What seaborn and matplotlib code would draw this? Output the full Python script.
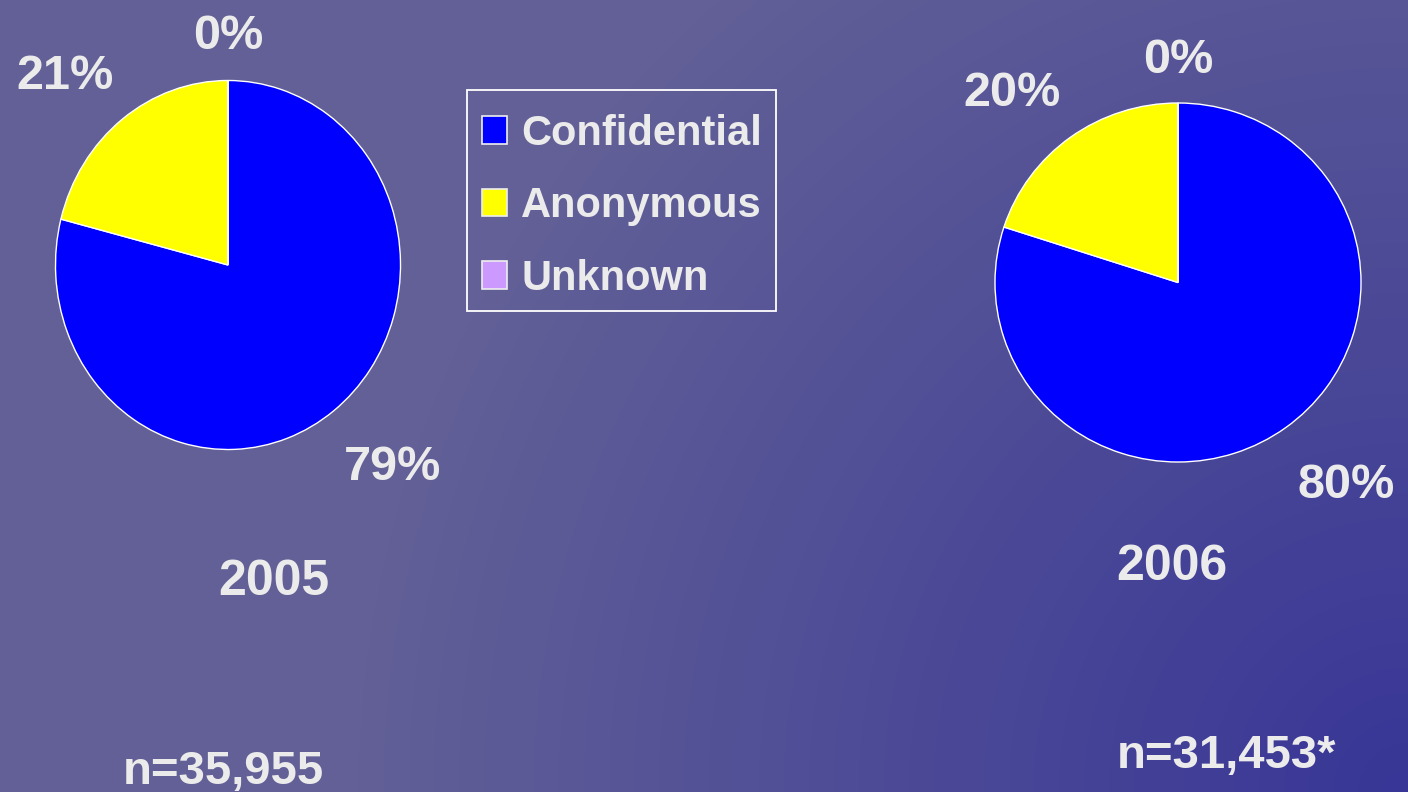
import numpy as np
import matplotlib
matplotlib.use("Agg")
import matplotlib.pyplot as plt
import matplotlib.transforms as mtransforms
from matplotlib.patches import Patch, Rectangle
import seaborn as sns

# ---- data ----
categories = ["Confidential", "Anonymous", "Unknown"]
years = ["2005", "2006"]
shares_2005 = [79, 21, 0]
shares_2006 = [80, 20, 0]
n_labels = ["n=35,955", "n=31,453*"]

sns.set_style("white")
plt.rcParams["font.family"] = ["Liberation Sans", "DejaVu Sans"]
plt.rcParams["font.weight"] = "bold"

colors = sns.color_palette(["#0000FF", "#FFFF00", "#CC99FF"])
txt_color = "#EBEBEB"

W, H = 1408, 792
fig = plt.figure(figsize=(W / 100, H / 100), dpi=100)

# ---- background gradient (radial from bottom-right corner) ----
bg = fig.add_axes([0, 0, 1, 1], zorder=-10)
yy, xx = np.mgrid[0:H, 0:W]
d = np.sqrt((W - xx) ** 2 + (H - yy) ** 2)
t = np.clip(1 - d / 1050.0, 0, 1)
c0 = np.array([98, 96, 150]) / 255.0
c1 = np.array([56, 54, 150]) / 255.0
img = c0[None, None, :] * (1 - t[..., None]) + c1[None, None, :] * t[..., None]
bg.imshow(img, aspect="auto", extent=[0, W, H, 0])
bg.set_axis_off()


def px_axes(cx, cy, rx, ry):
    return fig.add_axes([(cx - rx) / W, (H - cy - ry) / H, 2 * rx / W, 2 * ry / H])


label_dist = [1.43, 1.415, 1.27]
label_rot = 4.0  # degrees the labels sit counter-clockwise of the wedge middle


def draw_pie(ax, values):
    wedges, _ = ax.pie(values, colors=colors, startangle=90, counterclock=False,
                       wedgeprops=dict(edgecolor="white", linewidth=1.0))
    ax.set_aspect("auto")
    ax.set_xlim(-1, 1)
    ax.set_ylim(-1, 1)
    ax.set_axis_off()
    shift = ax.transData + mtransforms.ScaledTranslation(0, -0.06, fig.dpi_scale_trans)
    for w, v, dist in zip(wedges, values, label_dist):
        ang = (w.theta1 + w.theta2) / 2
        if w.theta1 != w.theta2:
            ang += label_rot
        mid = np.deg2rad(ang)
        ax.text(dist * np.cos(mid), dist * np.sin(mid), f"{v}%",
                ha="center", va="center", fontsize=35, fontweight="bold",
                color=txt_color, clip_on=False, transform=shift)


ax1 = px_axes(228, 265, 172.5, 184.5)
draw_pie(ax1, shares_2005)
ax2 = px_axes(1178, 282.5, 183, 179.5)
draw_pie(ax2, shares_2006)

# ---- year and n labels ----
year_pos = [(274, 582), (1172, 567)]
n_pos = [(223, 772), (1227, 756)]
for (x, y), s in zip(year_pos, years):
    fig.text(x / W, 1 - y / H, s, ha="center", va="center", fontsize=36,
             fontweight="bold", color=txt_color)
for (x, y), s in zip(n_pos, n_labels):
    fig.text(x / W, 1 - y / H, s, ha="center", va="center", fontsize=34,
             fontweight="bold", color=txt_color)

# ---- legend ----
handles = [Patch(facecolor=c, edgecolor="#EEEEEE", linewidth=1.2) for c in colors]
leg = fig.legend(handles, categories, loc="upper left",
                 bbox_to_anchor=(467 / W, 1 - 99 / H), bbox_transform=fig.transFigure,
                 borderaxespad=0, frameon=False,
                 prop=dict(size=30, weight="bold"),
                 handlelength=0.6, handleheight=0.65, handletextpad=0.35,
                 labelspacing=0.78, borderpad=0.35)
for tx in leg.get_texts():
    tx.set_color(txt_color)
fig.patches.append(Rectangle((467 / W, 1 - 311 / H), (776 - 467) / W, (311 - 90) / H,
                             transform=fig.transFigure, facecolor="none",
                             edgecolor="white", linewidth=1.3))

fig.savefig("out.png", dpi=100)
